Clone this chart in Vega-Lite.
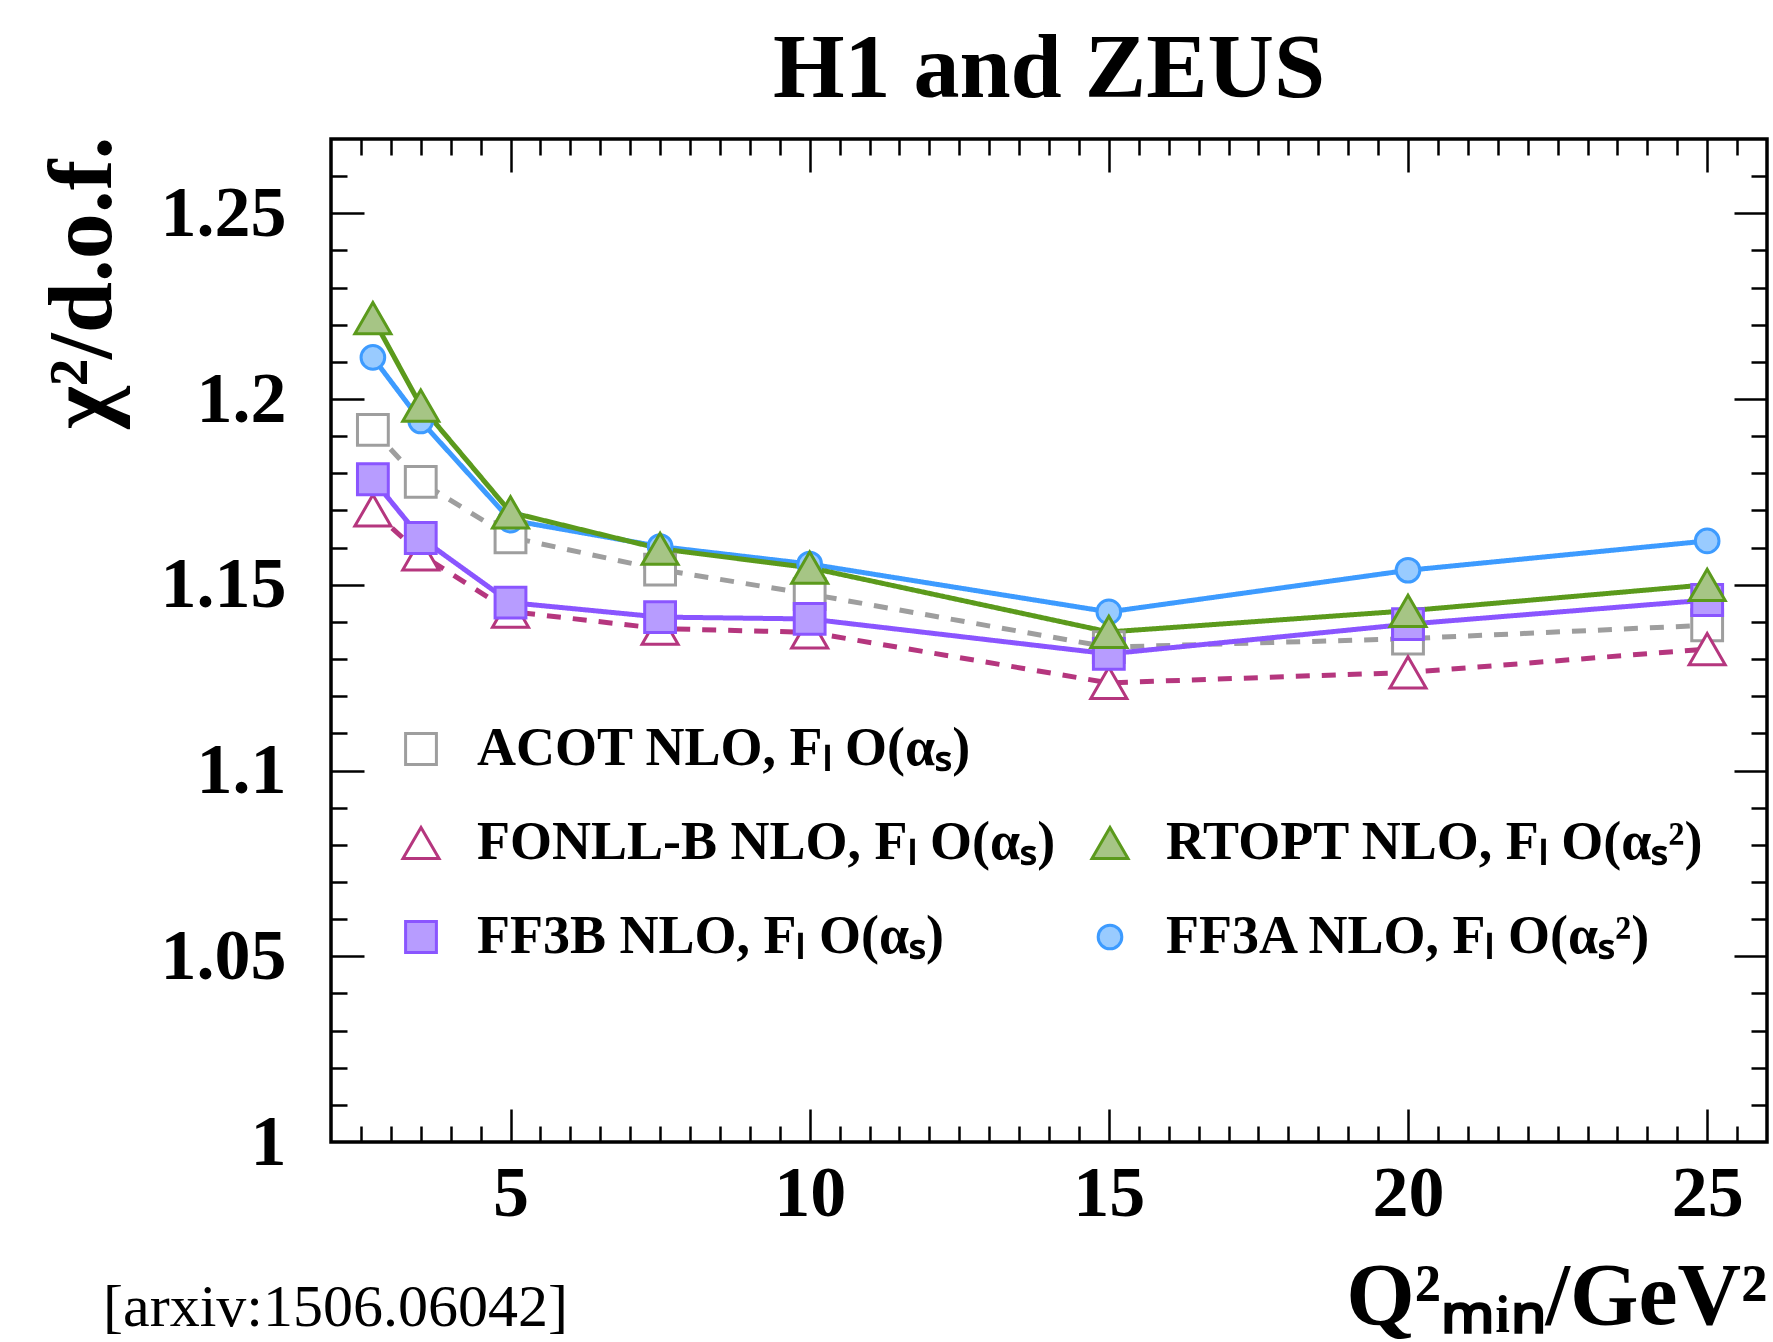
{
  "$schema": "https://vega.github.io/schema/vega-lite/v6.json",
  "width": 1436,
  "height": 1003,
  "autosize": {"type": "none"},
  "padding": {"left": 331, "top": 139, "right": 6, "bottom": 200},
  "background": "white",
  "title": {"text": "H1 and ZEUS", "font": "Liberation Serif", "fontWeight": "bold", "fontSize": 92, "color": "black", "anchor": "middle", "offset": 20},
  "config": {
    "view": {"stroke": "black", "strokeWidth": 3.5},
    "axis": {"grid": false, "domain": false, "tickColor": "black", "tickWidth": 2.5, "labelColor": "black", "titleColor": "black"},
    "legend": {"orient": "none", "legendX": 63, "legendY": 583, "columns": 2, "labelFont": "Liberation Serif", "labelFontWeight": "bold", "labelFontSize": 54, "labelColor": "black", "labelLimit": 2000, "labelOffset": 29, "rowPadding": 40, "columnPadding": 27, "symbolStrokeWidth": 3, "padding": 0}
  },
  "datasets": {
    "chi2": [
      {"series": "ACOT", "q2min": 2.7, "chi2": 1.1917},
      {"series": "ACOT", "q2min": 3.5, "chi2": 1.1777},
      {"series": "ACOT", "q2min": 5, "chi2": 1.1628},
      {"series": "ACOT", "q2min": 7.5, "chi2": 1.1541},
      {"series": "ACOT", "q2min": 10, "chi2": 1.1475},
      {"series": "ACOT", "q2min": 15, "chi2": 1.1332},
      {"series": "ACOT", "q2min": 20, "chi2": 1.1355},
      {"series": "ACOT", "q2min": 25, "chi2": 1.1391},
      {"series": "FONLL-B", "q2min": 2.7, "chi2": 1.1700},
      {"series": "FONLL-B", "q2min": 3.5, "chi2": 1.1582},
      {"series": "FONLL-B", "q2min": 5, "chi2": 1.1428},
      {"series": "FONLL-B", "q2min": 7.5, "chi2": 1.1382},
      {"series": "FONLL-B", "q2min": 10, "chi2": 1.1372},
      {"series": "FONLL-B", "q2min": 15, "chi2": 1.1236},
      {"series": "FONLL-B", "q2min": 20, "chi2": 1.1264},
      {"series": "FONLL-B", "q2min": 25, "chi2": 1.1327},
      {"series": "FF3B", "q2min": 2.7, "chi2": 1.1784},
      {"series": "FF3B", "q2min": 3.5, "chi2": 1.1626},
      {"series": "FF3B", "q2min": 5, "chi2": 1.1452},
      {"series": "FF3B", "q2min": 7.5, "chi2": 1.1413},
      {"series": "FF3B", "q2min": 10, "chi2": 1.1408},
      {"series": "FF3B", "q2min": 15, "chi2": 1.1314},
      {"series": "FF3B", "q2min": 20, "chi2": 1.1394},
      {"series": "FF3B", "q2min": 25, "chi2": 1.1459},
      {"series": "FF3A", "q2min": 2.7, "chi2": 1.2112},
      {"series": "FF3A", "q2min": 3.5, "chi2": 1.1941},
      {"series": "FF3A", "q2min": 5, "chi2": 1.1674},
      {"series": "FF3A", "q2min": 7.5, "chi2": 1.1603},
      {"series": "FF3A", "q2min": 10, "chi2": 1.1556},
      {"series": "FF3A", "q2min": 15, "chi2": 1.1427},
      {"series": "FF3A", "q2min": 20, "chi2": 1.1539},
      {"series": "FF3A", "q2min": 25, "chi2": 1.1618},
      {"series": "RTOPT", "q2min": 2.7, "chi2": 1.2218},
      {"series": "RTOPT", "q2min": 3.5, "chi2": 1.1982},
      {"series": "RTOPT", "q2min": 5, "chi2": 1.1695},
      {"series": "RTOPT", "q2min": 7.5, "chi2": 1.1597},
      {"series": "RTOPT", "q2min": 10, "chi2": 1.1546},
      {"series": "RTOPT", "q2min": 15, "chi2": 1.1373},
      {"series": "RTOPT", "q2min": 20, "chi2": 1.1430},
      {"series": "RTOPT", "q2min": 25, "chi2": 1.1500}
    ],
    "note": [{"label": "[arxiv:1506.06042]"}]
  },
  "data": {"name": "chi2"},
  "resolve": {"axis": {"x": "independent", "y": "independent"}},
  "layer": [
    {
      "mark": {"type": "line", "strokeWidth": 5},
      "encoding": {
        "x": {"field": "q2min", "type": "quantitative", "scale": {"domain": [2, 26], "nice": false, "zero": false},
          "axis": {"orient": "bottom", "values": [5, 10, 15, 20, 25], "ticks": false, "tickSize": 0, "labelFont": "Liberation Serif", "labelFontWeight": "bold", "labelFontSize": 72, "labelBaseline": "alphabetic", "labelPadding": 73, "labelFlush": false,
            "title": "Q²ₘᵢₙ/GeV²", "titleFont": "Liberation Serif", "titleFontWeight": "bold", "titleFontSize": 88, "titleAnchor": "end", "titleAlign": "right", "titleBaseline": "alphabetic", "titleX": 1436, "titleY": 181}},
        "y": {"field": "chi2", "type": "quantitative", "scale": {"domain": [1, 1.27], "nice": false, "zero": false},
          "axis": {"orient": "left", "values": [1, 1.05, 1.1, 1.15, 1.2, 1.25], "format": "~g", "ticks": false, "tickSize": 0, "labelFont": "Liberation Serif", "labelFontWeight": "bold", "labelFontSize": 72, "labelPadding": 45, "labelFlush": false,
            "title": "χ²/d.o.f.", "titleFont": "Liberation Serif", "titleFontWeight": "bold", "titleFontSize": 92, "titleAngle": -90, "titleAlign": "right", "titleAnchor": "end", "titleBaseline": "alphabetic", "titleX": -221, "titleY": -3}},
        "color": {"field": "series", "type": "nominal", "legend": null,
          "scale": {"domain": ["ACOT", "FONLL-B", "FF3B", "FF3A", "RTOPT"], "range": ["#9e9e9e", "#b5367e", "#8a55ff", "#3d9bff", "#5b9a1c"]}},
        "strokeDash": {"field": "series", "type": "nominal", "legend": null,
          "scale": {"domain": ["ACOT", "FONLL-B", "FF3B", "FF3A", "RTOPT"], "range": [[14, 12], [14, 12], [1, 0], [1, 0], [1, 0]]}}
      }
    },
    {
      "mark": {"type": "point", "strokeWidth": 3, "opacity": 1},
      "encoding": {
        "x": {"field": "q2min", "type": "quantitative",
          "axis": {"orient": "top", "values": [5, 10, 15, 20, 25], "labels": false, "title": null, "tickSize": -33}},
        "y": {"field": "chi2", "type": "quantitative",
          "axis": {"orient": "right", "values": [1.05, 1.1, 1.15, 1.2, 1.25], "labels": false, "title": null, "tickSize": -33}},
        "stroke": {"field": "series", "type": "nominal",
          "scale": {"domain": ["ACOT", "FONLL-B", "FF3B", "blank", "RTOPT", "FF3A"], "range": ["#9e9e9e", "#b5367e", "#8a55ff", "transparent", "#5b9a1c", "#3d9bff"]},
          "legend": {"orient": "none", "legendX": 63, "legendY": 583, "columns": 2, "title": null,
            "labelExpr": "datum.label == 'ACOT' ? 'ACOT NLO, Fₗ O(αₛ)' : datum.label == 'FONLL-B' ? 'FONLL-B NLO, Fₗ O(αₛ)' : datum.label == 'RTOPT' ? 'RTOPT NLO, Fₗ O(αₛ²)' : datum.label == 'FF3B' ? 'FF3B NLO, Fₗ O(αₛ)' : datum.label == 'FF3A' ? 'FF3A NLO, Fₗ O(αₛ²)' : ''"}},
        "fill": {"field": "series", "type": "nominal",
          "scale": {"domain": ["ACOT", "FONLL-B", "FF3B", "blank", "RTOPT", "FF3A"], "range": ["white", "white", "#b79cff", "transparent", "#a6c585", "#99cbff"]},
          "legend": {"orient": "none", "legendX": 63, "legendY": 583, "columns": 2, "title": null,
            "labelExpr": "datum.label == 'ACOT' ? 'ACOT NLO, Fₗ O(αₛ)' : datum.label == 'FONLL-B' ? 'FONLL-B NLO, Fₗ O(αₛ)' : datum.label == 'RTOPT' ? 'RTOPT NLO, Fₗ O(αₛ²)' : datum.label == 'FF3B' ? 'FF3B NLO, Fₗ O(αₛ)' : datum.label == 'FF3A' ? 'FF3A NLO, Fₗ O(αₛ²)' : ''"}},
        "shape": {"field": "series", "type": "nominal",
          "scale": {"domain": ["ACOT", "FONLL-B", "FF3B", "blank", "RTOPT", "FF3A"], "range": ["square", "triangle-up", "square", "circle", "triangle-up", "circle"]},
          "legend": {"orient": "none", "legendX": 63, "legendY": 583, "columns": 2, "title": null,
            "labelExpr": "datum.label == 'ACOT' ? 'ACOT NLO, Fₗ O(αₛ)' : datum.label == 'FONLL-B' ? 'FONLL-B NLO, Fₗ O(αₛ)' : datum.label == 'RTOPT' ? 'RTOPT NLO, Fₗ O(αₛ²)' : datum.label == 'FF3B' ? 'FF3B NLO, Fₗ O(αₛ)' : datum.label == 'FF3A' ? 'FF3A NLO, Fₗ O(αₛ²)' : ''"}},
        "size": {"field": "series", "type": "nominal",
          "scale": {"type": "ordinal", "domain": ["ACOT", "FONLL-B", "FF3B", "blank", "RTOPT", "FF3A"], "range": [950, 1300, 950, 100, 1300, 560]},
          "legend": {"orient": "none", "legendX": 63, "legendY": 583, "columns": 2, "title": null,
            "labelExpr": "datum.label == 'ACOT' ? 'ACOT NLO, Fₗ O(αₛ)' : datum.label == 'FONLL-B' ? 'FONLL-B NLO, Fₗ O(αₛ)' : datum.label == 'RTOPT' ? 'RTOPT NLO, Fₗ O(αₛ²)' : datum.label == 'FF3B' ? 'FF3B NLO, Fₗ O(αₛ)' : datum.label == 'FF3A' ? 'FF3A NLO, Fₗ O(αₛ²)' : ''"}}
      }
    },
    {
      "mark": {"type": "point", "opacity": 0},
      "encoding": {
        "x": {"field": "q2min", "type": "quantitative",
          "axis": {"orient": "top", "values": [2.5, 3, 3.5, 4, 4.5, 5.5, 6, 6.5, 7, 7.5, 8, 8.5, 9, 9.5, 10.5, 11, 11.5, 12, 12.5, 13, 13.5, 14, 14.5, 15.5, 16, 16.5, 17, 17.5, 18, 18.5, 19, 19.5, 20.5, 21, 21.5, 22, 22.5, 23, 23.5, 24, 24.5, 25.5], "labels": false, "title": null, "tickSize": -16}},
        "y": {"field": "chi2", "type": "quantitative",
          "axis": {"orient": "right", "values": [1.01, 1.02, 1.03, 1.04, 1.06, 1.07, 1.08, 1.09, 1.11, 1.12, 1.13, 1.14, 1.16, 1.17, 1.18, 1.19, 1.21, 1.22, 1.23, 1.24, 1.26], "labels": false, "title": null, "tickSize": -16}}
      }
    },
    {
      "mark": {"type": "point", "opacity": 0},
      "encoding": {
        "x": {"field": "q2min", "type": "quantitative",
          "axis": {"orient": "bottom", "values": [5, 10, 15, 20, 25], "labels": false, "title": null, "tickSize": -33}},
        "y": {"field": "chi2", "type": "quantitative",
          "axis": {"orient": "left", "values": [1.05, 1.1, 1.15, 1.2, 1.25], "labels": false, "title": null, "tickSize": -33}}
      }
    },
    {
      "mark": {"type": "point", "opacity": 0},
      "encoding": {
        "x": {"field": "q2min", "type": "quantitative",
          "axis": {"orient": "bottom", "values": [2.5, 3, 3.5, 4, 4.5, 5.5, 6, 6.5, 7, 7.5, 8, 8.5, 9, 9.5, 10.5, 11, 11.5, 12, 12.5, 13, 13.5, 14, 14.5, 15.5, 16, 16.5, 17, 17.5, 18, 18.5, 19, 19.5, 20.5, 21, 21.5, 22, 22.5, 23, 23.5, 24, 24.5, 25.5], "labels": false, "title": null, "tickSize": -16}},
        "y": {"field": "chi2", "type": "quantitative",
          "axis": {"orient": "left", "values": [1.01, 1.02, 1.03, 1.04, 1.06, 1.07, 1.08, 1.09, 1.11, 1.12, 1.13, 1.14, 1.16, 1.17, 1.18, 1.19, 1.21, 1.22, 1.23, 1.24, 1.26], "labels": false, "title": null, "tickSize": -16}}
      }
    },
    {
      "data": {"name": "note"},
      "mark": {"type": "text", "font": "Liberation Serif", "fontSize": 60, "align": "left", "baseline": "alphabetic", "color": "black", "clip": false},
      "encoding": {
        "x": {"datum": -1.81, "type": "quantitative", "axis": null},
        "y": {"datum": 0.9505, "type": "quantitative", "axis": null},
        "text": {"field": "label", "type": "nominal"}
      }
    }
  ]
}
